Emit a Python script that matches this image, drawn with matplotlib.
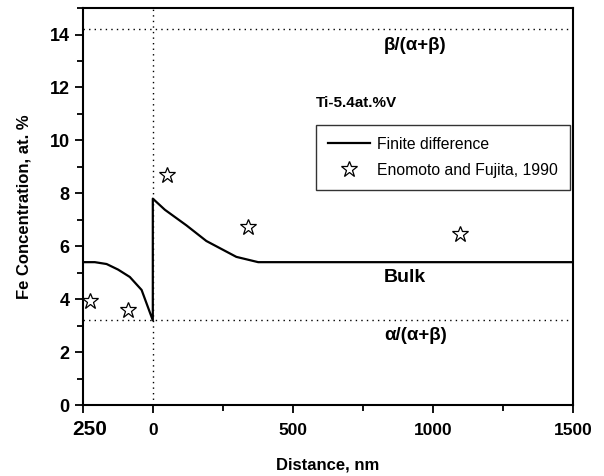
import matplotlib
matplotlib.use('Agg')
import matplotlib.pyplot as plt
from matplotlib.ticker import MultipleLocator, FixedLocator

plt.rcParams['font.family'] = ['Liberation Sans', 'DejaVu Sans']

# finite difference curve
fd_x = [-250, -207, -165, -124, -82, -40, 0, 0, 43, 120, 191, 298, 376, 1500]
fd_y = [5.4, 5.4, 5.33, 5.12, 4.84, 4.35, 3.2, 7.8, 7.38, 6.79, 6.2, 5.6, 5.4, 5.4]

# Enomoto and Fujita, 1990
exp_x = [-225, -88, 50, 340, 1096]
exp_y = [3.95, 3.58, 8.68, 6.73, 6.45]

beta_level = 14.2
alpha_level = 3.2

fig = plt.figure(figsize=(6.04, 4.76), dpi=100)
ax = fig.add_axes([0.137, 0.149, 0.812, 0.834])

ax.axhline(beta_level, color='black', ls=(0, (1, 3)), lw=1)
ax.axhline(alpha_level, color='black', ls=(0, (1, 3)), lw=1)
ax.axvline(0, color='black', ls=(0, (1, 3)), lw=1)

ax.plot(fd_x, fd_y, color='black', lw=1.6, label='Finite difference')
ax.plot(exp_x, exp_y, ls='none', marker='*', ms=12, mfc='white', mec='black',
        mew=0.9, label='Enomoto and Fujita, 1990')

ax.set_xlim(-250, 1500)
ax.set_ylim(0, 15)
ax.xaxis.set_major_locator(FixedLocator([-250, 0, 500, 1000, 1500]))
ax.xaxis.set_minor_locator(FixedLocator([250, 750, 1250]))
ax.yaxis.set_major_locator(MultipleLocator(2))
ax.yaxis.set_minor_locator(MultipleLocator(1))
ax.set_xticklabels(['', '0', '500', '1000', '1500'], fontsize=12.5, fontweight='bold')
ax.tick_params(axis='y', labelsize=13)
for t in ax.get_yticklabels():
    t.set_fontweight('bold')
ax.tick_params(which='major', length=6, width=1.3, direction='out')
ax.tick_params(axis='x', which='major', pad=7)
ax.tick_params(which='minor', length=4, width=1.3, direction='out')
for s in ax.spines.values():
    s.set_linewidth(1.5)

ax.text(-225, -0.55, '250', ha='center', va='top', fontsize=15, fontweight='bold')

ax.set_xlabel('Distance, nm', fontsize=12, fontweight='bold', labelpad=14)
ax.set_ylabel('Fe Concentration, at. %', fontsize=12, fontweight='bold', labelpad=13)

tr = ax.get_yaxis_transform()
ax.text(0.678, 13.58, 'β/(α+β)', transform=tr, ha='center', va='center',
        fontsize=13.5, fontweight='bold')
ax.text(0.678, 2.64, 'α/(α+β)', transform=tr, ha='center', va='center',
        fontsize=13.5, fontweight='bold')
ax.text(0.657, 4.83, 'Bulk', transform=tr, ha='center', va='center',
        fontsize=14, fontweight='bold')
ax.text(0.559, 11.43, 'Ti-5.4at.%V', transform=tr, ha='center', va='center',
        fontsize=11, fontweight='bold')

leg = ax.legend(loc='upper left', bbox_to_anchor=(0.476, 0.705), borderaxespad=0,
                fontsize=11.3, frameon=True, fancybox=False, edgecolor='black',
                handlelength=2.7, handletextpad=0.45, borderpad=0.75, labelspacing=0.7)
leg.get_frame().set_linewidth(1.0)

fig.savefig('out.png', dpi=100)
